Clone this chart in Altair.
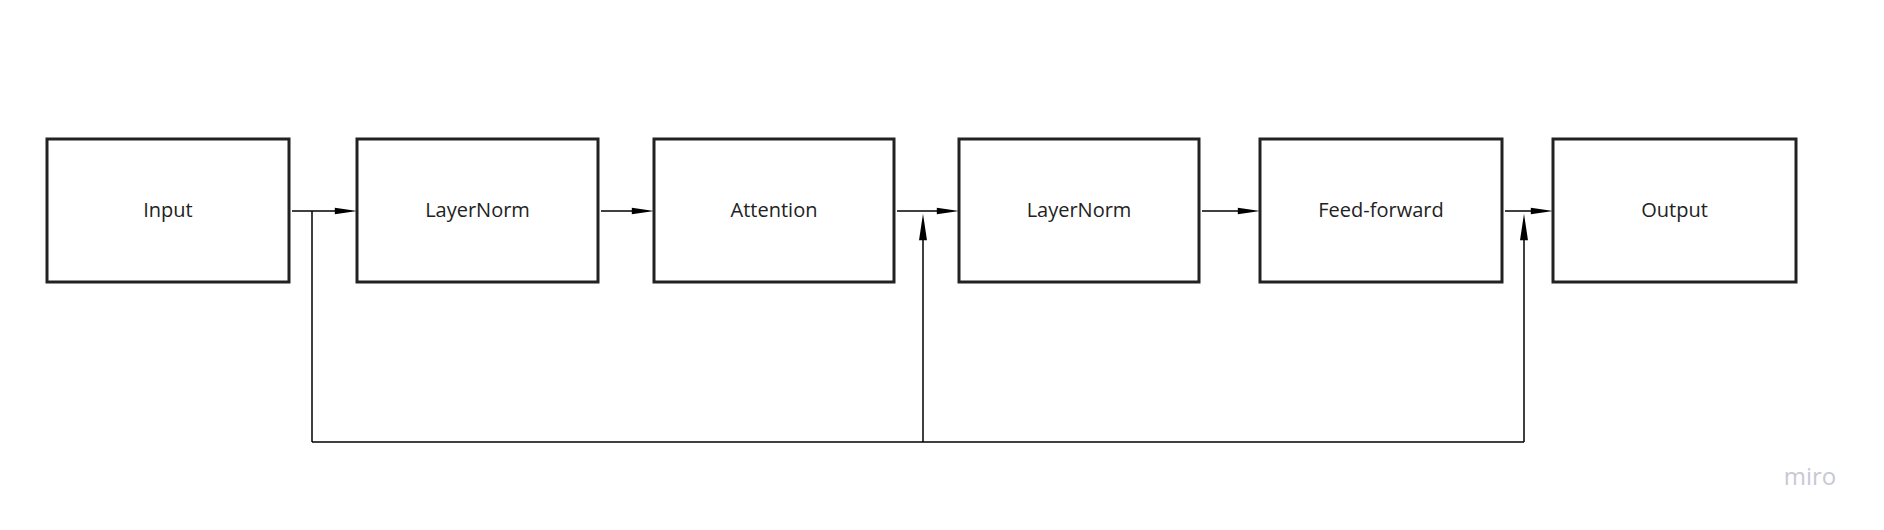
import altair as alt
import pandas as pd

labels = ["Input", "LayerNorm", "Attention", "LayerNorm", "Feed-forward", "Output"]
box_left = [47, 357, 654, 959, 1260, 1553]
box_right = [289, 598, 894, 1199, 1502, 1796]
box_top = 139
box_bottom = 282
flow_y = 211

# skip connection segments (x, y, x2, y2)
seg_x = [312, 312, 923, 1524]
seg_y = [211, 442, 442, 442]
seg_x2 = [312, 1524, 923, 1524]
seg_y2 = [442, 442, 240, 240]

W, H = 1868, 514
xs = alt.Scale(domain=[8, 8 + W], range=[0, W])
ys = alt.Scale(domain=[8, 8 + H], range=[0, H])


def X(f):
    return alt.X(f, scale=xs, axis=None)


def Y(f):
    return alt.Y(f, scale=ys, axis=None)


boxes = pd.DataFrame({
    "label": labels, "x": box_left, "x2": box_right,
    "y": [box_top] * 6, "y2": [box_bottom] * 6,
})
boxes["cx"] = (boxes["x"] + boxes["x2"]) / 2
boxes["cy"] = (boxes["y"] + boxes["y2"]) / 2

rects = alt.Chart(boxes).mark_rect(fill="white", stroke="#222", strokeWidth=3).encode(
    x=X("x:Q"), x2="x2:Q", y=Y("y:Q"), y2="y2:Q",
)
texts = alt.Chart(boxes).mark_text(font="Open Sans", fontSize=20, color="#222").encode(
    x=X("cx:Q"), y=Y("cy:Q"), text="label:N"
)

arrows = pd.DataFrame({
    "x": [r + 3 for r in box_right[:-1]],
    "x2": [l - 22 for l in box_left[1:]],
    "tip": [l - 11 for l in box_left[1:]],
    "y": [flow_y] * 5,
})
flow = alt.Chart(arrows).mark_rule(color="black", strokeWidth=1.5).encode(
    x=X("x:Q"), x2="x2:Q", y=Y("y:Q")
)
heads_r = alt.Chart(arrows).mark_point(
    shape="M-1,-0.3L1,0L-1,0.3Z", filled=True, color="black", opacity=1, size=500
).encode(x=X("tip:Q"), y=Y("y:Q"))

segs = pd.DataFrame({"x": seg_x, "y": seg_y, "x2": seg_x2, "y2": seg_y2})
skip = alt.Chart(segs).mark_rule(color="black", strokeWidth=1.5).encode(
    x=X("x:Q"), x2="x2:Q", y=Y("y:Q"), y2="y2:Q"
)
ups = pd.DataFrame({"x": [923, 1524], "y": [227, 227]})
heads_u = alt.Chart(ups).mark_point(
    shape="M-0.3,1L0,-1L0.3,1Z", filled=True, color="black", opacity=1, size=700
).encode(x=X("x:Q"), y=Y("y:Q"))

logo = alt.Chart(pd.DataFrame({"x": [1810], "y": [478], "t": ["miro"]})).mark_text(
    font="Open Sans", fontSize=24, color="#c8c8d4"
).encode(x=X("x:Q"), y=Y("y:Q"), text="t:N")

chart = alt.layer(skip, flow, heads_r, heads_u, rects, texts, logo).properties(
    width=W, height=H, padding=0
).configure_view(strokeWidth=0)

chart.save("out.html", embed_options={"renderer": "svg", "actions": False})
